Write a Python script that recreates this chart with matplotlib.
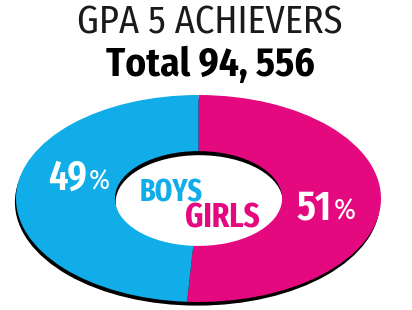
import matplotlib
matplotlib.use("Agg")
import matplotlib.pyplot as plt
from matplotlib.patches import Ellipse

# Data
categories = ["GIRLS", "BOYS"]
shares = [51, 49]
pct_labels = ["51", "49"]
colors = ["#E5097F", "#10ADE8"]
title = "GPA 5 ACHIEVERS"
subtitle = "Total 94, 556"

W, H = 412, 310
fig = plt.figure(figsize=(W / 100, H / 100), dpi=100)
fig.patch.set_facecolor("white")
renderer = fig.canvas.get_renderer()

def fx(px):
    return px / W

def fy(py):
    return (H - py) / H

def fit(t, width_px):
    bb = t.get_window_extent(renderer=renderer)
    t.set_fontsize(t.get_fontsize() * width_px / bb.width)

# axes spanning the ellipse bounding box
L, R, T, B = 16, 381, 95, 302
ax = fig.add_axes([fx(L), fy(B), fx(R) - fx(L), (B - T) / H])
ax.axis("off")

hole = 0.458
wedges, _ = ax.pie(shares, colors=colors, startangle=90, counterclock=False,
                   radius=1, wedgeprops=dict(width=1 - hole, linewidth=0))
ax.set_aspect("auto")
ax.set_xlim(-1, 1)
ax.set_ylim(-1, 1)
for w in wedges:
    w.set_zorder(3)

# outer shadow
ax.add_patch(Ellipse((-0.006, -0.035), 2.0, 2.0, facecolor="black", zorder=1, clip_on=False))
# inner hole shadow
ax.add_patch(Ellipse((0, 0), 2 * hole, 2 * hole, facecolor="black", zorder=1.5))
ax.add_patch(Ellipse((0.004, -0.035), 2 * hole, 2 * hole * 0.99, facecolor="white", zorder=2))

font_c = ["Fira Sans Condensed", "DejaVu Sans"]
font_xc = ["Fira Sans Extra Condensed", "Fira Sans Condensed", "DejaVu Sans"]
t = fig.text(fx(210), fy(34), title, ha="center", va="baseline", fontsize=25,
             family=font_c, color="#1a1a1a")
fit(t, 266)
t = fig.text(fx(210.5), fy(76), subtitle, ha="center", va="baseline", fontsize=25,
             family=font_c, fontweight="bold", color="black")
fit(t, 209)

# percent labels
t = fig.text(fx(87), fy(190), pct_labels[1], ha="right", va="baseline", fontsize=24,
             family=font_xc, fontweight="semibold", color="white", zorder=5)
fit(t, 39)
t = fig.text(fx(89), fy(190), "%", ha="left", va="baseline", fontsize=17,
             family=font_c, color="white", zorder=5)
fit(t, 21)
t = fig.text(fx(332), fy(220), pct_labels[0], ha="right", va="baseline", fontsize=24,
             family=font_xc, fontweight="semibold", color="white", zorder=5)
fit(t, 35)
t = fig.text(fx(334), fy(220), "%", ha="left", va="baseline", fontsize=17,
             family=font_c, color="white", zorder=5)
fit(t, 22)

# center labels
t = fig.text(fx(171.5), fy(202), categories[1], ha="center", va="baseline", fontsize=23,
             family=font_xc, fontweight="bold", color=colors[1], zorder=5)
fit(t, 63)
t = fig.text(fx(222.5), fy(228), categories[0], ha="center", va="baseline", fontsize=23,
             family=font_xc, fontweight="bold", color=colors[0], zorder=5)
fit(t, 75)

fig.savefig("out.png", dpi=100, facecolor="white")
